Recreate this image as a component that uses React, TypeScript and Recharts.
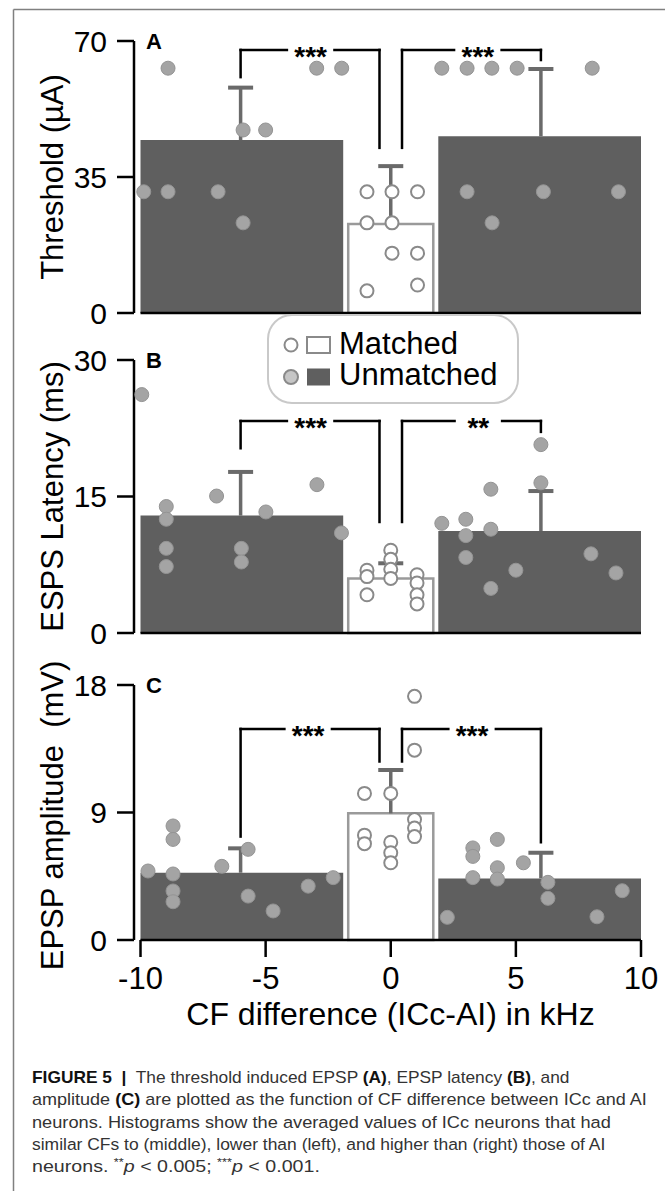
import React, { useLayoutEffect, useRef, useState } from 'react';
import {
  ComposedChart,
  ReferenceArea,
  ReferenceDot,
  ReferenceLine,
  Scatter,
  XAxis,
  YAxis,
} from 'recharts';

const FONT = '"Liberation Sans", Arial, Helvetica, sans-serif';
const BAR_DARK = '#5f5f5f';
const BAR_EDGE = '#9a9a9a';
const ERR = '#6a6a6a';
const DOT_FILL = '#a4a4a4';
const DOT_EDGE = '#949494';
const OPEN_EDGE = '#8a8a8a';

type Pt = [number, number];

// shared x layout (kHz)
const X_TICKS = [-10, -5, 0, 5, 10];
const BIN_LO = [-10, -1.7, 1.9];
const BIN_HI = [-1.9, 1.7, 10];
const BIN_MID = [-6, 0, 6];
const BRACKET_X = [-6, -0.45, 0.45, 6];

// A: threshold
const A_TICKS = [0, 35, 70];
const A_MEAN = [44.5, 22.9, 45.5];
const A_SEM = [13.5, 14.9, 17.3];
const A_BRACKET = [60.7, 67.7, 42.5, 65.1]; // left end, top, inner ends, right end
const A_STARS = ['***', '***'];
const A_STAR_X = [-3.2, 3.48];
const A_UNMATCHED: Pt[] = [
  [-8.9, 63], [-2.96, 63], [-1.96, 63], [2.04, 63], [3.05, 63], [4.04, 63], [5.05, 63], [8.05, 63],
  [-5.9, 47.1], [-5.0, 47.1],
  [-9.87, 31.2], [-8.9, 31.2], [-6.9, 31.2], [3.05, 31.2], [6.1, 31.2], [9.1, 31.2],
  [-5.9, 23.2], [4.05, 23.2],
];
const A_MATCHED: Pt[] = [
  [-0.95, 31.2], [0.05, 31.2], [1.07, 31.2],
  [-0.95, 23.2], [0.05, 23.2],
  [0.05, 15.4], [1.07, 15.4],
  [-0.95, 5.7], [1.07, 7.2],
];

// B: latency
const B_TICKS = [0, 15, 30];
const B_MEAN = [12.9, 6.0, 11.2];
const B_SEM = [4.8, 1.66, 4.4];
const B_BRACKET = [20.3, 23.3, 12.2, 22.1];
const B_STARS = ['***', '**'];
const B_STAR_X = [-3.2, 3.5];
const B_UNMATCHED: Pt[] = [
  [-9.95, 26.2], [-8.97, 13.9], [-8.97, 12.5], [-8.97, 9.3], [-8.97, 7.3],
  [-6.96, 15.05], [-5.97, 9.3], [-5.97, 7.8], [-4.99, 13.3], [-2.95, 16.3], [-1.97, 11.0],
  [2.04, 12.05], [3.0, 12.5], [3.0, 10.7], [3.0, 8.3],
  [4.0, 15.8], [4.0, 11.4], [4.0, 4.9], [5.0, 6.9],
  [6.0, 20.7], [6.0, 16.5], [8.0, 8.7], [9.0, 6.6],
];
const B_MATCHED: Pt[] = [
  [-0.95, 6.9], [-0.95, 6.2], [-0.95, 4.2],
  [0, 9.1], [0, 8.1], [0, 7.0], [0, 6.0],
  [1.05, 6.4], [1.05, 5.5], [1.05, 4.2], [1.05, 3.2],
];

// C: amplitude
const C_TICKS = [0, 9, 18];
const C_MEAN = [4.75, 8.94, 4.35];
const C_SEM = [1.72, 3.06, 1.81];
const C_BRACKET = [7.3, 14.9, 12.6, 6.9];
const C_STARS = ['***', '***'];
const C_STAR_X = [-3.3, 3.25];
const C_UNMATCHED: Pt[] = [
  [-9.7, 4.87], [-8.7, 8.05], [-8.7, 7.1], [-8.7, 4.66], [-8.7, 3.46], [-8.7, 2.7],
  [-6.75, 5.2], [-5.7, 6.4], [-5.7, 3.1], [-4.7, 2.05], [-3.3, 3.8], [-2.3, 4.4],
  [2.26, 1.6], [3.28, 6.5], [3.28, 5.9], [3.28, 4.4],
  [4.26, 7.1], [4.26, 5.1], [4.26, 4.3], [5.3, 5.45],
  [6.28, 4.07], [6.28, 2.94], [8.24, 1.64], [9.25, 3.48],
];
const C_MATCHED: Pt[] = [
  [-1.05, 10.35], [-1.05, 7.4], [-1.05, 6.8],
  [0, 10.35], [0, 6.9], [0, 6.16], [0, 5.45],
  [0.95, 17.2], [0.95, 13.4], [0.95, 8.5], [0.95, 7.9], [0.95, 7.3],
];

const CAPTION = [
  [['FIGURE 5', true], ['  ', false], ['|', true], ['  The threshold induced EPSP ', false], ['(A)', true], [', EPSP latency ', false], ['(B)', true], [', and', false]],
  [['amplitude ', false], ['(C)', true], [' are plotted as the function of CF difference between ICc and AI', false]],
  [['neurons. Histograms show the averaged values of ICc neurons that had', false]],
  [['similar CFs to (middle), lower than (left), and higher than (right) those of AI', false]],
] as [string, boolean][][];
const CAPTION_END = [570, 647, 611, 606, 320];

const W = 665;
const MT = 30;
const ML = 74;
const YW = 60;
const MR = 24;
const X_MIN = -10.26;
const GAP = 0.95;

const axisStroke = { stroke: '#000', strokeWidth: 2.5 };

// caption line stretched horizontally to the width it has in the figure
function FitText({ x, y, width, children }: { x: number; y: number; width: number; children: React.ReactNode }) {
  const ref = useRef<SVGTextElement>(null);
  const [k, setK] = useState(1);
  useLayoutEffect(() => {
    if (!ref.current) return;
    const w = ref.current.getBBox().width;
    if (w > 0) setK(width / w);
  }, [width]);
  return (
    <text
      ref={ref}
      transform={`translate(${x}, ${y}) scale(${k}, 1)`}
      fontSize={17}
      fontFamily={FONT}
      fill="#333"
      style={{ whiteSpace: 'pre' }}
    >
      {children}
    </text>
  );
}

interface PanelProps {
  plotTop: number;
  plotH: number;
  yMax: number;
  yTicks: number[];
  title: string;
  letter: string;
  mean: number[];
  sem: number[];
  unmatched: Pt[];
  matched: Pt[];
  bracket: number[];
  stars: string[];
  starX: number[];
  last?: boolean;
}

function Panel(p: PanelProps) {
  const xh = p.last ? 100 : 40;
  const h = MT + p.plotH + xh;
  const [lEnd, top, mid, rEnd] = p.bracket;
  const [bx0, bx1, bx2, bx3] = BRACKET_X;
  const segs: [Pt, Pt][] = [
    [[bx0, lEnd], [bx0, top]],
    [[bx0, top], [p.starX[0] - GAP, top]],
    [[p.starX[0] + GAP, top], [bx1, top]],
    [[bx1, top], [bx1, mid]],
    [[bx2, mid], [bx2, top]],
    [[bx2, top], [p.starX[1] - GAP, top]],
    [[p.starX[1] + GAP, top], [bx3, top]],
    [[bx3, top], [bx3, rEnd]],
  ];

  const yTitle = (lp: any) => {
    const vb = lp?.viewBox ?? { y: MT, height: p.plotH };
    const cy = vb.y + vb.height / 2 + (p.last ? 3 : 0);
    return (
      <text
        transform={`translate(63, ${cy}) rotate(-90)`}
        textAnchor="middle"
        fontSize={31}
        fontFamily={FONT}
        fill="#000"
        style={{ whiteSpace: 'pre' }}
      >
        {p.title}
      </text>
    );
  };

  const xTitle = (lp: any) => {
    const vb = lp?.viewBox ?? { x: ML + YW, y: MT + p.plotH, width: W - ML - YW - MR };
    return (
      <text
        x={vb.x + vb.width / 2 + 3}
        y={vb.y + 85}
        textAnchor="middle"
        fontSize={32}
        fontFamily={FONT}
        fill="#000"
      >
        CF difference (ICc-AI) in kHz
      </text>
    );
  };

  return (
    <div style={{ position: 'absolute', left: 0, top: p.plotTop - MT }}>
      <ComposedChart width={W} height={h} margin={{ top: MT, right: MR, bottom: 0, left: ML }}>
        <XAxis
          type="number"
          dataKey="x"
          domain={[X_MIN, 10]}
          ticks={X_TICKS}
          allowDataOverflow
          axisLine={false}
          tickLine={axisStroke}
          tickSize={17}
          tickMargin={10}
          tick={p.last ? { fill: '#000', fontSize: 31, fontFamily: FONT } : false}
          height={xh}
          label={p.last ? xTitle : undefined}
        />
        <YAxis
          type="number"
          dataKey="y"
          domain={[0, p.yMax]}
          ticks={p.yTicks}
          allowDataOverflow
          width={YW}
          axisLine={axisStroke}
          tickLine={axisStroke}
          tickSize={17}
          tickMargin={10}
          tick={{ fill: '#000', fontSize: 30, fontFamily: FONT }}
          label={yTitle}
        />
        {BIN_LO.map((lo, i) => (
          <ReferenceArea
            key={`bar${i}`}
            x1={lo}
            x2={BIN_HI[i]}
            y1={0}
            y2={p.mean[i]}
            fill={i === 1 ? '#fff' : BAR_DARK}
            fillOpacity={1}
            stroke={i === 1 ? BAR_EDGE : 'none'}
            strokeWidth={2.5}
            ifOverflow="visible"
          />
        ))}
        {BIN_MID.map((m, i) => (
          <ReferenceLine
            key={`err${i}`}
            segment={[{ x: m, y: p.mean[i] }, { x: m, y: p.mean[i] + p.sem[i] }]}
            stroke={ERR}
            strokeWidth={3.5}
            ifOverflow="visible"
          />
        ))}
        {BIN_MID.map((m, i) => (
          <ReferenceLine
            key={`cap${i}`}
            segment={[{ x: m - 0.5, y: p.mean[i] + p.sem[i] }, { x: m + 0.5, y: p.mean[i] + p.sem[i] }]}
            stroke={ERR}
            strokeWidth={4}
            ifOverflow="visible"
          />
        ))}
        <ReferenceLine segment={[{ x: -10, y: 0 }, { x: 10, y: 0 }]} stroke="#000" strokeWidth={2.5} ifOverflow="visible" />
        {segs.map(([a, b], i) => (
          <ReferenceLine
            key={`br${i}`}
            segment={[{ x: a[0], y: a[1] }, { x: b[0], y: b[1] }]}
            stroke="#000"
            strokeWidth={2.5}
            strokeLinecap="square"
            ifOverflow="visible"
          />
        ))}
        {p.stars.map((s, i) => (
          <ReferenceDot
            key={`st${i}`}
            x={p.starX[i]}
            y={top}
            r={0}
            ifOverflow="visible"
            shape={(sp: any) => (
              <text x={sp.cx} y={sp.cy + 16} textAnchor="middle" fontSize={28} fontWeight="bold" fontFamily={FONT} fill="#000">
                {s}
              </text>
            )}
          />
        ))}
        <ReferenceDot
          x={-9.46}
          y={p.yMax}
          r={0}
          ifOverflow="visible"
          shape={(sp: any) => (
            <text x={sp.cx} y={sp.cy + 8} textAnchor="middle" fontSize={22} fontWeight="bold" fontFamily={FONT} fill="#000">
              {p.letter}
            </text>
          )}
        />
        <Scatter
          data={p.unmatched.map(([x, y]) => ({ x, y }))}
          dataKey="y"
          isAnimationActive={false}
          shape={(sp: any) => <circle cx={sp.cx} cy={sp.cy} r={7} fill={DOT_FILL} stroke={DOT_EDGE} strokeWidth={1} />}
        />
        <Scatter
          data={p.matched.map(([x, y]) => ({ x, y }))}
          dataKey="y"
          isAnimationActive={false}
          shape={(sp: any) => <circle cx={sp.cx} cy={sp.cy} r={6.5} fill="#fff" stroke={OPEN_EDGE} strokeWidth={2} />}
        />
      </ComposedChart>
    </div>
  );
}

export default function App() {
  const capY = [1083, 1105.3, 1127.6, 1149.9, 1172.2];
  return (
    <div style={{ position: 'absolute', left: 0, top: 0, width: W, height: 1191, background: '#fff', overflow: 'hidden' }}>
      <Panel plotTop={41} plotH={272} yMax={70} yTicks={A_TICKS} title="Threshold (µA)" letter="A"
        mean={A_MEAN} sem={A_SEM} unmatched={A_UNMATCHED} matched={A_MATCHED}
        bracket={A_BRACKET} stars={A_STARS} starX={A_STAR_X} />
      <Panel plotTop={360} plotH={273} yMax={30} yTicks={B_TICKS} title="ESPS Latency (ms)" letter="B"
        mean={B_MEAN} sem={B_SEM} unmatched={B_UNMATCHED} matched={B_MATCHED}
        bracket={B_BRACKET} stars={B_STARS} starX={B_STAR_X} />
      <Panel plotTop={685} plotH={255} yMax={18} yTicks={C_TICKS} title="EPSP amplitude  (mV)" letter="C"
        mean={C_MEAN} sem={C_SEM} unmatched={C_UNMATCHED} matched={C_MATCHED}
        bracket={C_BRACKET} stars={C_STARS} starX={C_STAR_X} last />
      <svg width={W} height={1191} style={{ position: 'absolute', left: 0, top: 0, pointerEvents: 'none' }}>
        <line x1={13.5} y1={9.5} x2={W} y2={9.5} stroke="#808080" strokeWidth={1.5} />
        <line x1={13.5} y1={9.5} x2={13.5} y2={1191} stroke="#808080" strokeWidth={1.5} />

        <rect x={268} y={315} width={250} height={88} rx={24} fill="#fff" stroke="#c9c9c9" strokeWidth={2} />
        <circle cx={291} cy={345} r={6.5} fill="#fff" stroke={OPEN_EDGE} strokeWidth={2} />
        <rect x={307} y={337} width={23} height={16} fill="#fff" stroke={OPEN_EDGE} strokeWidth={2} />
        <text x={339} y={354} fontSize={31} fontFamily={FONT} fill="#000">Matched</text>
        <circle cx={291} cy={377} r={7} fill="#c6c6c6" stroke={OPEN_EDGE} strokeWidth={2} />
        <rect x={307} y={368.5} width={23} height={17} fill={BAR_DARK} />
        <text x={339} y={385} fontSize={31} fontFamily={FONT} fill="#000">Unmatched</text>

        {CAPTION.map((line, i) => (
          <FitText key={i} x={32} y={capY[i]} width={CAPTION_END[i] - 32}>
            {line.map(([t, b], j) => (
              <tspan key={j} fontWeight={b ? 'bold' : 'normal'} fill={b ? '#111' : '#333'}>{t}</tspan>
            ))}
          </FitText>
        ))}
        <FitText x={32} y={capY[4]} width={CAPTION_END[4] - 32}>
          {'neurons. '}
          <tspan fontSize={11} dy={-6}>**</tspan>
          <tspan dy={6} fontStyle="italic">p</tspan>
          {' < 0.005; '}
          <tspan fontSize={11} dy={-6}>***</tspan>
          <tspan dy={6} fontStyle="italic">p</tspan>
          {' < 0.001.'}
        </FitText>
      </svg>
    </div>
  );
}
